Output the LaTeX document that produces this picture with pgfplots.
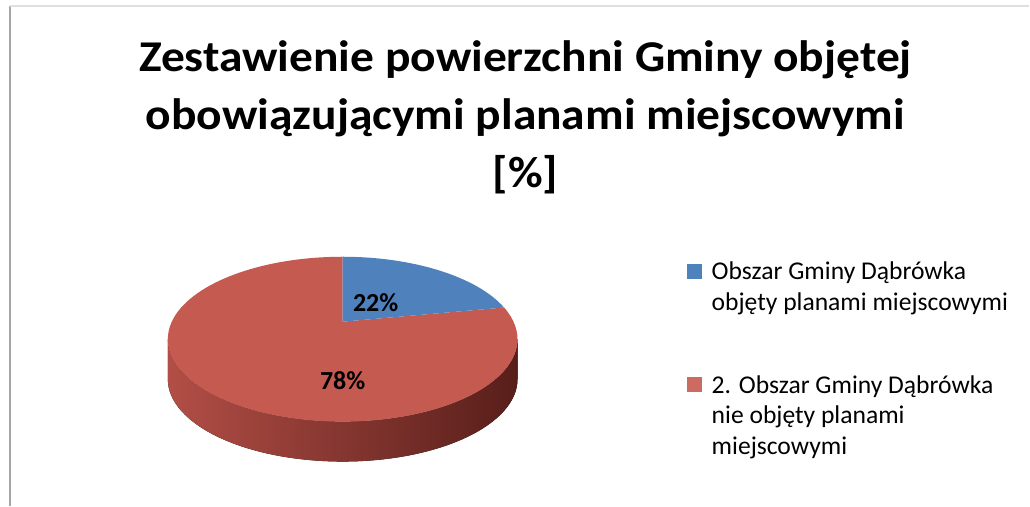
\documentclass[border=0pt]{standalone}
\usepackage{pgfplots}
\usepackage{pgfplotstable}
\pgfplotsset{compat=1.18}
\usepackage{fontspec}
\setmainfont{Carlito}
\definecolor{blueC}{RGB}{79,129,189}
\definecolor{redC}{RGB}{197,90,81}
\definecolor{sideL}{RGB}{178,78,70}
\definecolor{sideR}{RGB}{88,30,26}
\pgfplotstableread{
label value
A 22
B 78
}\piedata
\newcommand{\ttl}[1]{\scalebox{1.08}[1]{#1}}
\begin{document}
\begin{tikzpicture}
\pgfplotstablegetelem{0}{value}\of\piedata
\let\vA\pgfplotsretval
\pgfmathsetmacro{\th}{90-3.6*\vA}
\pgfmathsetmacro{\den}{1+0.2121*sin(\th)}
\pgfmathsetmacro{\X}{171*cos(\th)/\den}
\pgfmathsetmacro{\Y}{(82.5*sin(\th)+17.5)/\den}
\pgfmathsetmacro{\ph}{atan2(\Y/82.5,\X/175)}
\pgfmathsetmacro{\phr}{\ph+360}
\begin{axis}[scale only axis, width=515pt, height=253pt,
  xmin=0, xmax=1030, ymin=0, ymax=506, hide axis, clip=false]
\path (axis cs:0,0) rectangle (axis cs:1030,506);
% frame lines
\draw[line width=1pt, gray!70] (axis cs:10,0) -- (axis cs:10,500);
\draw[line width=1pt, gray!25] (axis cs:10,499.5) -- (axis cs:1030,499.5);
% side
\fill[left color=sideL, right color=sideR] (axis cs:168,166.5)
  arc[start angle=180, end angle=360, x radius=175, y radius=82.5]
  -- (axis cs:518,126.5)
  arc[start angle=360, end angle=180, x radius=175, y radius=82.5]
  -- cycle;
% top face
\fill[redC] (axis cs:343,184) -- (axis cs:343,249)
  arc[start angle=90, end angle=\phr, x radius=175, y radius=82.5] -- cycle;
\fill[blueC] (axis cs:343,184) -- (axis cs:343,249)
  arc[start angle=90, end angle=\ph, x radius=175, y radius=82.5] -- cycle;
\node[font=\fontsize{13}{15}\selectfont\bfseries] at (axis cs:376,203) {22\%};
\node[font=\fontsize{13}{15}\selectfont\bfseries] at (axis cs:343,125) {78\%};
% title
\node[anchor=base, font=\fontsize{22}{26}\selectfont\bfseries] at (axis cs:526,434) {\ttl{Zestawienie powierzchni Gminy objętej}};
\node[anchor=base, font=\fontsize{22}{26}\selectfont\bfseries] at (axis cs:526,376) {\ttl{obowiązującymi planami miejscowymi}};
\node[anchor=base, font=\fontsize{22}{26}\selectfont\bfseries] at (axis cs:526,318) {\ttl{[\%]}};
% legend
\fill[blueC] (axis cs:688,227) rectangle (axis cs:703,242);
\fill[redC!90] (axis cs:688,114) rectangle (axis cs:703,129);
\node[anchor=base west, inner sep=0pt, font=\fontsize{12.8}{14}\selectfont] at (axis cs:712,226) {Obszar Gminy Dąbrówka};
\node[anchor=base west, inner sep=0pt, font=\fontsize{12.8}{14}\selectfont] at (axis cs:712,195) {objęty planami miejscowymi};
\node[anchor=base west, inner sep=0pt, font=\fontsize{12.8}{14}\selectfont] at (axis cs:712,112) {2. Obszar Gminy Dąbrówka};
\node[anchor=base west, inner sep=0pt, font=\fontsize{12.8}{14}\selectfont] at (axis cs:712,82) {nie objęty planami};
\node[anchor=base west, inner sep=0pt, font=\fontsize{12.8}{14}\selectfont] at (axis cs:712,51) {miejscowymi};
\end{axis}
\end{tikzpicture}
\end{document}
